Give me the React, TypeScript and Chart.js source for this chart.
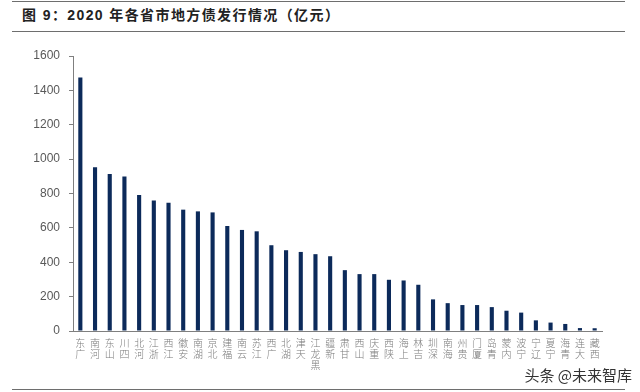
import React, { useEffect, useRef } from "react";
import { Chart, registerables } from "chart.js";

Chart.register(...registerables);

const TITLE = "图 9：2020 年各省市地方债发行情况（亿元）";
const WATERMARK = "头条 @未来智库";

const provinces = [
  "广东", "河南", "山东", "四川", "河北", "浙江", "江西", "安徽", "湖南", "北京",
  "福建", "云南", "江苏", "广西", "湖北", "天津", "黑龙江", "新疆", "甘肃", "山西",
  "重庆", "陕西", "上海", "吉林", "深圳", "海南", "贵州", "厦门", "青岛", "内蒙",
  "宁波", "辽宁", "宁夏", "青海", "大连", "西藏",
];

const issuance = [
  1475, 953, 913, 899, 791, 760, 746, 706, 696, 690,
  611, 588, 580, 499, 470, 460, 447, 435, 354, 331,
  331, 298, 294, 269, 184, 162, 151, 151, 139, 118,
  107, 62, 49, 41, 17, 16,
];

const yMin = 0;
const yMax = 1600;
const yStep = 200;

export default function App() {
  const ref = useRef<HTMLCanvasElement | null>(null);

  useEffect(() => {
    if (!ref.current) return;
    const chart = new Chart(ref.current, {
      type: "bar",
      data: {
        labels: provinces,
        datasets: [
          {
            data: issuance,
            backgroundColor: "#0c2a5a",
            barPercentage: 0.28,
            categoryPercentage: 1,
          },
        ],
      },
      options: {
        animation: false,
        responsive: false,
        maintainAspectRatio: false,
        layout: { padding: { left: 0, top: 56, right: 38, bottom: 6 } },
        plugins: { legend: { display: false }, tooltip: { enabled: false } },
        scales: {
          x: {
            grid: { display: false, drawTicks: false },
            border: { display: true, color: "#7f7f7f", width: 1 },
            ticks: {
              autoSkip: false,
              maxRotation: 0,
              minRotation: 0,
              padding: 7,
              color: "#7a7a7a",
              font: { family: "'Noto Sans CJK SC'", size: 10, weight: "300", lineHeight: 1.08 },
              callback: (_v: any, i: number) => provinces[i].split("").reverse(),
            },
            afterFit: (s: any) => {
              s.height = 55;
            },
          },
          y: {
            min: yMin,
            max: yMax,
            grid: { drawOnChartArea: false, drawTicks: true, tickLength: 4, color: "#7f7f7f" },
            border: { display: true, color: "#7f7f7f", width: 1 },
            ticks: {
              stepSize: yStep,
              padding: 9,
              color: "#595959",
              font: { family: "'Liberation Sans', Arial", size: 12 },
              callback: (v: any) => String(v),
            },
            afterFit: (s: any) => {
              s.width = 73;
            },
          },
        },
      },
    });
    return () => chart.destroy();
  }, []);

  const line = (top: number): React.CSSProperties => ({
    position: "absolute",
    left: 12,
    width: 613,
    top,
    height: 0,
    borderTop: "1.5px solid #6e6e6e",
  });

  return (
    <div
      style={{
        position: "fixed",
        left: 0,
        top: 0,
        width: 640,
        height: 392,
        background: "#fff",
        overflow: "hidden",
      }}
    >
      <div style={line(1)} />
      <div
        style={{
          position: "absolute",
          left: 22,
          top: 6,
          fontFamily: "'Liberation Sans', 'Noto Sans CJK SC', sans-serif",
          fontWeight: "bold",
          fontSize: 14,
          letterSpacing: "1.4px",
          color: "#222",
          whiteSpace: "nowrap",
          lineHeight: "18px",
        }}
      >
        {TITLE}
      </div>
      <div style={line(31)} />
      <canvas
        ref={ref}
        width={640}
        height={392}
        style={{ position: "absolute", left: 0, top: 0, width: 640, height: 392 }}
      />
      <div
        style={{
          position: "absolute",
          right: 8,
          top: 366,
          fontFamily: "'Noto Sans CJK SC', sans-serif",
          fontSize: 15,
          color: "#333",
          whiteSpace: "nowrap",
          lineHeight: "18px",
        }}
      >
        {WATERMARK}
      </div>
      <div style={line(389)} />
    </div>
  );
}
